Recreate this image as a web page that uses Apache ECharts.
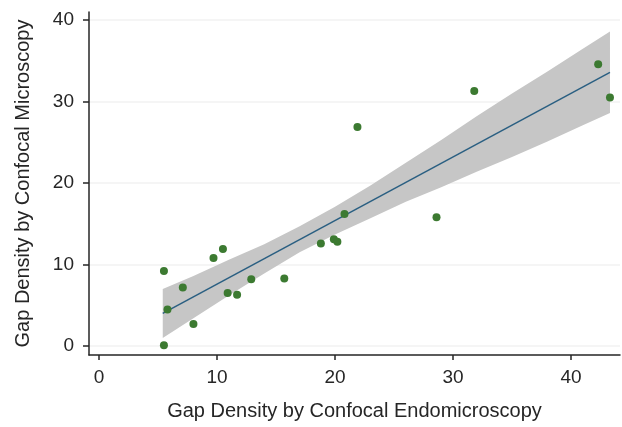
<!DOCTYPE html>
<html>
<head>
<meta charset="utf-8">
<script src="https://cdn.jsdelivr.net/npm/echarts@6/dist/echarts.min.js"></script>
<style>
  html, body { margin: 0; padding: 0; background: #fff; }
  #chart { width: 622px; height: 427px; }
</style>
</head>
<body>
<div id="chart"></div>
<script>
// observed values (endomicroscopy vs microscopy)
const pointsX = [5.5, 5.8, 5.5, 7.1, 8.0, 9.7, 10.5, 10.9, 11.7, 12.9, 15.7, 18.8, 19.9, 20.2, 20.8, 28.6, 21.9, 31.8, 42.3, 43.3]
const pointsY = [9.2, 4.5, 0.1, 7.2, 2.7, 10.8, 11.9, 6.5, 6.3, 8.2, 8.3, 12.6, 13.1, 12.8, 16.2, 15.8, 26.9, 31.3, 34.6, 30.5]

// fitted line end points
const fitX = [5.4, 43.3]
const fitY = [4.0, 33.6]

// confidence band
const bandX = [5.4, 8, 11, 14, 17, 20, 23, 26, 29, 32, 35, 38, 41, 43.3]
const bandLow = [1.0, 3.4, 6.2, 8.9, 11.5, 13.7, 15.7, 17.7, 19.5, 21.4, 23.2, 25.1, 27.1, 28.6]
const bandHigh = [7.0, 8.6, 10.6, 12.5, 14.7, 17.1, 19.7, 22.5, 25.3, 28.2, 31.0, 33.7, 36.5, 38.6]

const xTicks = [0, 10, 20, 30, 40]
const yTicks = [0, 10, 20, 30, 40]

const font = 'Liberation Sans, Arial, sans-serif'
const ink = '#262626'

const chart = echarts.init(document.getElementById('chart'))

const option = {
  animation: false,
  grid: { left: 89, right: 2, top: 12, bottom: 72 },
  xAxis: {
    type: 'value',
    min: -0.85,
    max: 44.15,
    name: 'Gap Density by Confocal Endomicroscopy',
    nameLocation: 'middle',
    nameGap: 46,
    nameTextStyle: { fontFamily: font, fontSize: 20, color: ink },
    axisLine: { onZero: false, lineStyle: { color: ink, width: 1.5 } },
    axisTick: { customValues: xTicks, length: 5, lineStyle: { color: ink, width: 1.5 } },
    axisLabel: { customValues: xTicks, fontFamily: font, fontSize: 19, color: ink, margin: 13 },
    splitLine: { show: false }
  },
  yAxis: {
    type: 'value',
    min: -1.1,
    max: 41,
    name: 'Gap Density by Confocal Microscopy',
    nameLocation: 'middle',
    nameGap: 56,
    nameTextStyle: { fontFamily: font, fontSize: 20, color: ink },
    axisLine: { show: true, onZero: false, lineStyle: { color: ink, width: 1.5 } },
    axisTick: { show: true, customValues: yTicks, length: 6, lineStyle: { color: ink, width: 1.5 } },
    axisLabel: { customValues: yTicks, fontFamily: font, fontSize: 19, color: ink, margin: 15 },
    splitLine: { show: false }
  },
  series: [
    {
      // faint horizontal guides, kept under the band
      name: 'grid',
      type: 'line',
      data: [],
      z: 0,
      markLine: {
        z: 0,
        silent: true,
        symbol: 'none',
        label: { show: false },
        lineStyle: { color: '#f2f2f2', width: 1.5, type: 'solid' },
        data: yTicks.map((v) => ({ yAxis: v }))
      }
    },
    {
      name: 'band',
      type: 'custom',
      data: bandX.map((x, i) => [x, bandLow[i], bandHigh[i]]),
      encode: { x: 0, y: [1, 2] },
      renderItem: function (params, api) {
        if (params.dataIndex !== 0) return null
        const pts = []
        for (let i = 0; i < bandX.length; i++) pts.push(api.coord([bandX[i], bandHigh[i]]))
        for (let i = bandX.length - 1; i >= 0; i--) pts.push(api.coord([bandX[i], bandLow[i]]))
        return {
          type: 'polygon',
          shape: { points: pts },
          style: { fill: '#c6c6c6' }
        }
      },
      z: 2
    },
    {
      name: 'fit',
      type: 'line',
      data: fitX.map((x, i) => [x, fitY[i]]),
      symbol: 'none',
      lineStyle: { color: '#2a5f82', width: 1.5 },
      z: 3
    },
    {
      name: 'points',
      type: 'scatter',
      data: pointsX.map((x, i) => [x, pointsY[i]]),
      symbolSize: 8,
      itemStyle: { color: '#3c7a31', opacity: 1 },
      z: 4
    }
  ]
}

chart.setOption(option)
</script>
</body>
</html>
